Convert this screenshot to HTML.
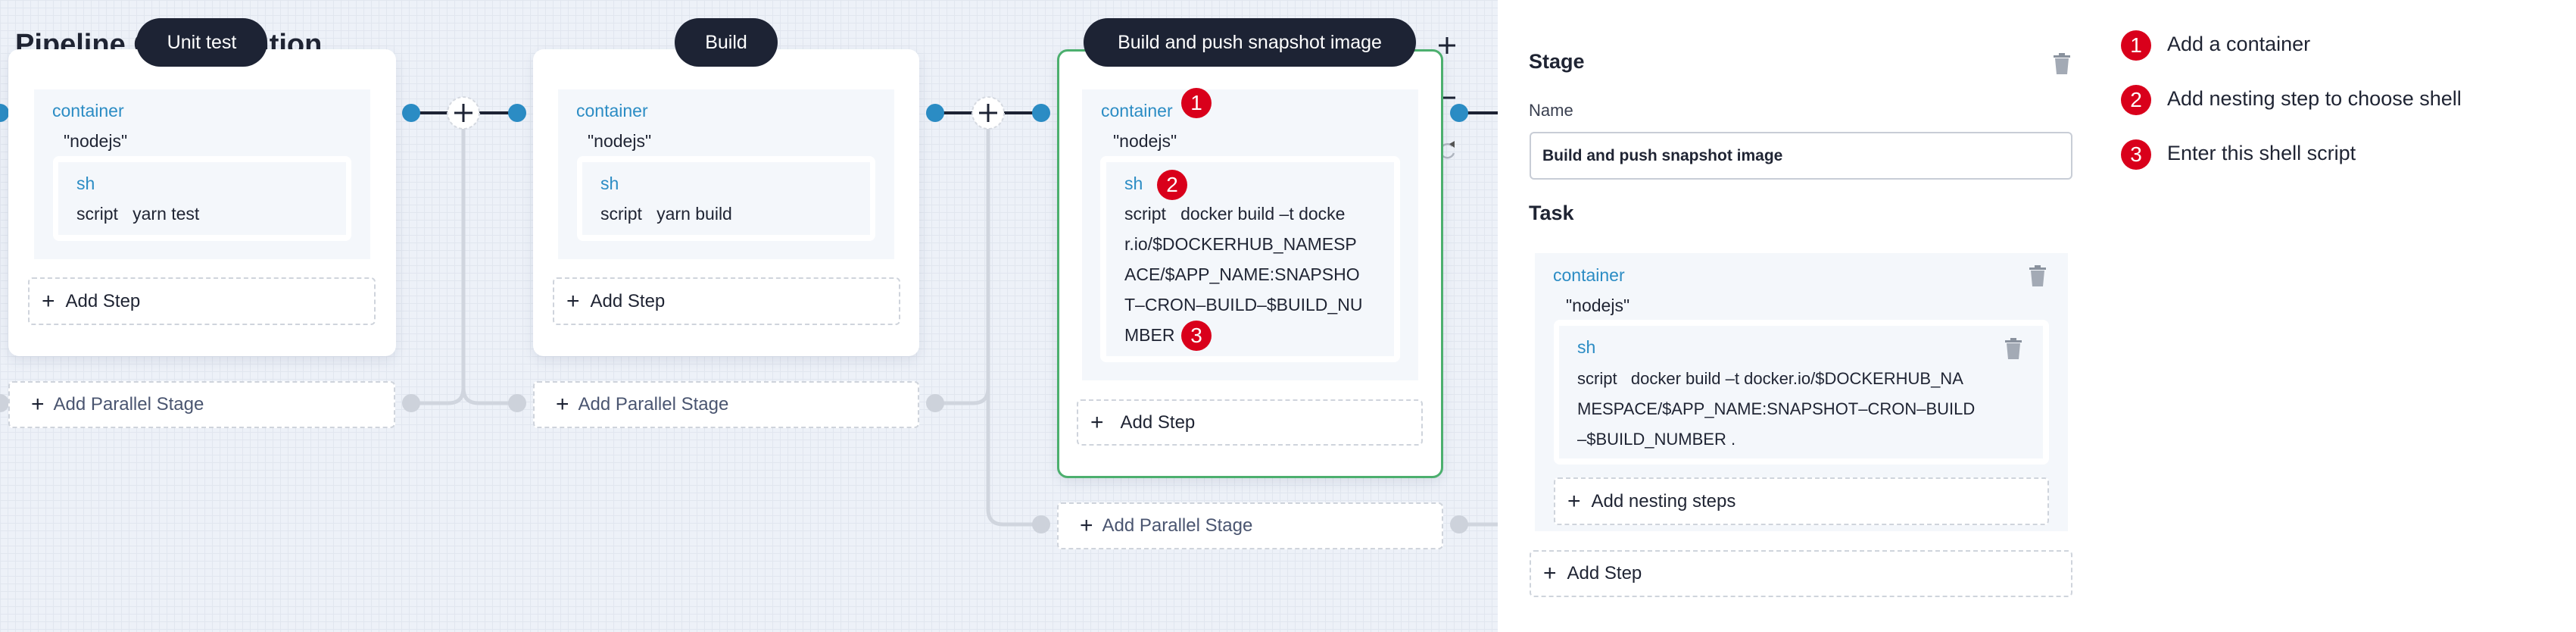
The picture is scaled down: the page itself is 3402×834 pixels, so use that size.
<!DOCTYPE html>
<html><head><meta charset="utf-8">
<style>
*{box-sizing:border-box;margin:0;padding:0}
body{width:3402px;height:834px;overflow:hidden;position:relative;font-family:"Liberation Sans",sans-serif;color:#1f2433;
background-color:#edf1f8;
background-image:linear-gradient(#e1e6ef 1px,transparent 1px),linear-gradient(90deg,#e1e6ef 1px,transparent 1px);
background-size:10px 10px;}
.a{position:absolute}
.card{position:absolute;background:#fff;border-radius:14px;box-shadow:0 6px 16px rgba(40,60,100,.10)}
.pill{position:absolute;background:#1d2334;color:#fff;border-radius:32px;font-size:25px;display:flex;align-items:center;justify-content:center;height:64px;top:24px}
.blue{color:#2b8cc4}
.box{position:absolute;background:#f4f7fb}
.wbox{position:absolute;background:#fff;border-radius:8px}
.dash{position:absolute;border:2px dashed #cfd4dc;border-radius:6px;background:#fff;display:flex;align-items:center;font-size:24px}
.t{position:absolute;font-size:23px;white-space:nowrap;line-height:1}
.badge{position:absolute;width:40px;height:40px;border-radius:50%;background:#d9001b;color:#fff;font-size:28px;display:flex;align-items:center;justify-content:center}
</style></head><body>

<div class="a" style="left:20px;top:38px;font-size:38px;font-weight:bold;color:#1f2433">Pipeline Configuration</div>

<svg class="a" style="left:0;top:0" width="3402" height="834">
 <g fill="none" stroke="#d0d5de" stroke-width="5">
  <path d="M612 170 V512 Q612 532 632 532 H683"/>
  <path d="M543 532 H592 Q612 532 612 512"/>
  <path d="M1305 170 V512 Q1305 532 1285 532 H1235"/>
  <path d="M1305 512 V672 Q1305 692 1325 692 H1375"/>
  <path d="M1927 692 H1980"/>
 </g>
 <g stroke="#1d2334" stroke-width="4">
  <line x1="543" y1="149" x2="683" y2="149"/>
  <line x1="1235" y1="149" x2="1375" y2="149"/>
  <line x1="1927" y1="149" x2="1980" y2="149"/>
 </g>
 <g fill="#cdd2db">
  <ellipse cx="0" cy="532" rx="12" ry="12"/>
  <ellipse cx="543" cy="532" rx="12" ry="12"/><ellipse cx="683" cy="532" rx="12" ry="12"/>
  <ellipse cx="1235" cy="532" rx="12" ry="12"/><ellipse cx="1375" cy="692" rx="12" ry="12"/>
  <ellipse cx="1927" cy="692" rx="12" ry="12"/>
 </g>
 <g fill="#2b8cc4">
  <ellipse cx="0" cy="149" rx="12" ry="12"/>
  <ellipse cx="543" cy="149" rx="12" ry="12"/><ellipse cx="683" cy="149" rx="12" ry="12"/>
  <ellipse cx="1235" cy="149" rx="12" ry="12"/><ellipse cx="1375" cy="149" rx="12" ry="12"/>
  <ellipse cx="1927" cy="149" rx="12" ry="12"/>
 </g>
 <g fill="#fff" stroke="#d5d9e0" stroke-width="2" stroke-dasharray="4 3">
  <circle cx="612" cy="149" r="21"/><circle cx="1305" cy="149" r="21"/>
 </g>
 <g stroke="#1d2334" stroke-width="3">
  <line x1="600" y1="149" x2="624" y2="149"/><line x1="612" y1="137" x2="612" y2="161"/>
  <line x1="1293" y1="149" x2="1317" y2="149"/><line x1="1305" y1="137" x2="1305" y2="161"/>
  <line x1="1900" y1="60" x2="1922" y2="60"/><line x1="1911" y1="49" x2="1911" y2="71"/>
  <line x1="1900" y1="129" x2="1922" y2="129"/>
 </g>
 <path d="M1918 193 A9 9 0 1 0 1920 202" fill="none" stroke="#b0b6c0" stroke-width="2.5"/>
 <path d="M1914 190 L1921 186 L1921 195 Z" fill="#555"/>
</svg>

<!-- Card 1 -->
<div class="card" style="left:11px;top:65px;width:512px;height:405px"></div>
<div class="box" style="left:45px;top:118px;width:444px;height:224px"></div>
<div class="t blue" style="left:69px;top:135px">container</div>
<div class="t" style="left:84px;top:175px">"nodejs"</div>
<div class="wbox" style="left:70px;top:206px;width:394px;height:112px"></div>
<div class="box" style="left:77px;top:214px;width:380px;height:96px"></div>
<div class="t blue" style="left:101px;top:231px">sh</div>
<div class="t" style="left:101px;top:271px">script&nbsp;&nbsp;&nbsp;yarn test</div>
<div class="dash" style="left:37px;top:366px;width:459px;height:63px;padding-left:16px"><span style="font-size:30px;margin-right:14px">+</span>Add Step</div>
<div class="dash" style="left:11px;top:503px;width:511px;height:62px;padding-left:28px;color:#4a5570"><span style="font-size:30px;margin-right:12px;color:#1d2334">+</span>Add Parallel Stage</div>
<div class="pill" style="left:180px;width:173px">Unit test</div>

<!-- Card 2 -->
<div class="card" style="left:704px;top:65px;width:510px;height:405px"></div>
<div class="box" style="left:737px;top:118px;width:444px;height:224px"></div>
<div class="t blue" style="left:761px;top:135px">container</div>
<div class="t" style="left:776px;top:175px">"nodejs"</div>
<div class="wbox" style="left:762px;top:206px;width:394px;height:112px"></div>
<div class="box" style="left:769px;top:214px;width:380px;height:96px"></div>
<div class="t blue" style="left:793px;top:231px">sh</div>
<div class="t" style="left:793px;top:271px">script&nbsp;&nbsp;&nbsp;yarn build</div>
<div class="dash" style="left:730px;top:366px;width:459px;height:63px;padding-left:16px"><span style="font-size:30px;margin-right:14px">+</span>Add Step</div>
<div class="dash" style="left:704px;top:503px;width:510px;height:62px;padding-left:28px;color:#4a5570"><span style="font-size:30px;margin-right:12px;color:#1d2334">+</span>Add Parallel Stage</div>
<div class="pill" style="left:891px;width:136px">Build</div>

<!-- Card 3 -->
<div class="card" style="left:1396px;top:65px;width:510px;height:566px;border:3px solid #4caf6e"></div>
<div class="box" style="left:1429px;top:118px;width:444px;height:384px"></div>
<div class="t blue" style="left:1454px;top:135px">container</div>
<div class="badge" style="left:1560px;top:116px">1</div>
<div class="t" style="left:1470px;top:175px">"nodejs"</div>
<div class="wbox" style="left:1453px;top:206px;width:396px;height:272px"></div>
<div class="box" style="left:1461px;top:214px;width:380px;height:256px"></div>
<div class="t blue" style="left:1485px;top:231px">sh</div>
<div class="badge" style="left:1528px;top:224px">2</div>
<div class="t" style="left:1485px;top:262px;line-height:40px;font-size:23px;white-space:normal;width:345px">script&nbsp;&nbsp;&nbsp;docker build –t docke<br>r.io/$DOCKERHUB_NAMESP<br>ACE/$APP_NAME:SNAPSHO<br>T–CRON–BUILD–$BUILD_NU<br>MBER</div>
<div class="badge" style="left:1560px;top:423px">3</div>
<div class="dash" style="left:1422px;top:527px;width:457px;height:61px;padding-left:16px"><span style="font-size:30px;margin-right:22px">+</span>Add Step</div>
<div class="dash" style="left:1396px;top:663px;width:510px;height:62px;padding-left:28px;color:#4a5570"><span style="font-size:30px;margin-right:12px;color:#1d2334">+</span>Add Parallel Stage</div>
<div class="pill" style="left:1431px;width:439px">Build and push snapshot image</div>

<!-- Right panel -->
<div class="a" style="left:1978px;top:0;width:1424px;height:834px;background:#fff"></div>
<div class="t" style="left:2019px;top:68px;font-size:27px;font-weight:bold">Stage</div>
<svg class="a" style="left:2712px;top:70px" width="22" height="28"><rect x="0" y="3" width="22" height="3" fill="#8a929e"/><rect x="7" y="0" width="8" height="3" fill="#8a929e"/><path d="M2 7 H20 L18 28 H4 Z" fill="#a3aab5"/></svg>
<div class="t" style="left:2019px;top:135px;font-size:22px;color:#3a4050">Name</div>
<div class="a" style="left:2020px;top:174px;width:717px;height:63px;border:2px solid #c8cdd6;border-radius:6px;background:#fff"></div>
<div class="t" style="left:2037px;top:195px;font-size:21px;font-weight:bold">Build and push snapshot image</div>
<div class="t" style="left:2019px;top:268px;font-size:27px;font-weight:bold">Task</div>
<div class="box" style="left:2027px;top:334px;width:704px;height:367px"></div>
<div class="t blue" style="left:2051px;top:352px">container</div>
<svg class="a" style="left:2680px;top:350px" width="22" height="28"><rect x="0" y="3" width="22" height="3" fill="#8a929e"/><rect x="7" y="0" width="8" height="3" fill="#8a929e"/><path d="M2 7 H20 L18 28 H4 Z" fill="#a3aab5"/></svg>
<div class="t" style="left:2068px;top:392px">"nodejs"</div>
<div class="wbox" style="left:2052px;top:422px;width:654px;height:191px"></div>
<div class="box" style="left:2059px;top:430px;width:639px;height:175px"></div>
<div class="t blue" style="left:2083px;top:447px">sh</div>
<svg class="a" style="left:2648px;top:446px" width="22" height="28"><rect x="0" y="3" width="22" height="3" fill="#8a929e"/><rect x="7" y="0" width="8" height="3" fill="#8a929e"/><path d="M2 7 H20 L18 28 H4 Z" fill="#a3aab5"/></svg>
<div class="t" style="left:2083px;top:480px;line-height:40px;white-space:normal;width:610px;font-size:22px">script&nbsp;&nbsp;&nbsp;docker build –t docker.io/$DOCKERHUB_NA<br>MESPACE/$APP_NAME:SNAPSHOT–CRON–BUILD<br>–$BUILD_NUMBER .</div>
<div class="dash" style="left:2052px;top:630px;width:654px;height:63px;padding-left:16px"><span style="font-size:30px;margin-right:14px">+</span>Add nesting steps</div>
<div class="dash" style="left:2020px;top:726px;width:717px;height:62px;padding-left:16px"><span style="font-size:30px;margin-right:14px">+</span>Add Step</div>

<div class="badge" style="left:2801px;top:40px">1</div>
<div class="t" style="left:2862px;top:45px;font-size:27px">Add a container</div>
<div class="badge" style="left:2801px;top:112px">2</div>
<div class="t" style="left:2862px;top:117px;font-size:27px">Add nesting step to choose shell</div>
<div class="badge" style="left:2801px;top:184px">3</div>
<div class="t" style="left:2862px;top:189px;font-size:27px">Enter this shell script</div>
</body></html>
